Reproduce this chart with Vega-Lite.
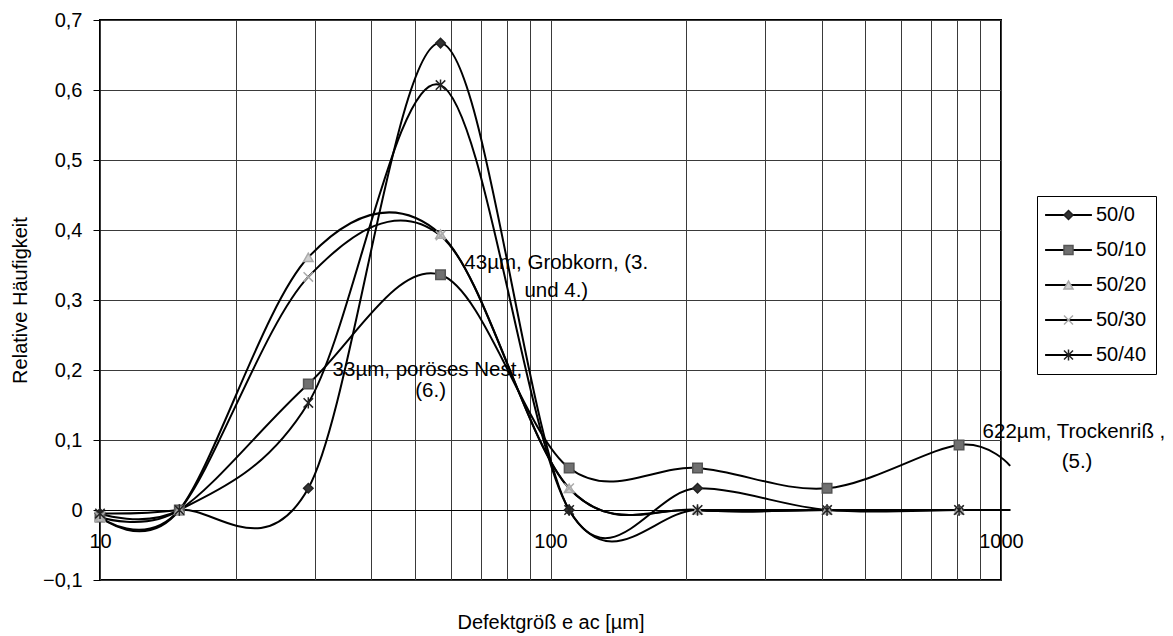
{
  "$schema": "https://vega.github.io/schema/vega-lite/v6.json",
  "width": 901,
  "height": 560,
  "autosize": "none",
  "padding": {"left": 100, "top": 20, "right": 172, "bottom": 56},
  "background": "white",
  "config": {
    "font": "Liberation Sans",
    "view": {"stroke": "black", "strokeWidth": 2},
    "axis": {
      "labelFont": "Liberation Sans", "titleFont": "Liberation Sans",
      "labelFontSize": 20, "titleFontSize": 20, "titleFontWeight": "normal",
      "labelColor": "black", "titleColor": "black",
      "gridColor": "#3a3a3a", "gridOpacity": 1, "gridWidth": 1
    },
    "legend": {"labelFont": "Liberation Sans", "labelFontSize": 20, "labelColor": "black"}
  },
  "data": {"values": [
    {"series": "50/0", "x": 10, "y": -0.005},
    {"series": "50/0", "x": 15, "y": 0},
    {"series": "50/0", "x": 29, "y": 0.031},
    {"series": "50/0", "x": 57, "y": 0.667},
    {"series": "50/0", "x": 110, "y": 0},
    {"series": "50/0", "x": 212, "y": 0.031},
    {"series": "50/0", "x": 411, "y": 0},
    {"series": "50/0", "x": 807, "y": 0},
    {"series": "50/0", "x": 1048, "y": 0},
    {"series": "50/10", "x": 10, "y": -0.01},
    {"series": "50/10", "x": 15, "y": 0},
    {"series": "50/10", "x": 29, "y": 0.18},
    {"series": "50/10", "x": 57, "y": 0.336},
    {"series": "50/10", "x": 110, "y": 0.06},
    {"series": "50/10", "x": 212, "y": 0.06},
    {"series": "50/10", "x": 411, "y": 0.031},
    {"series": "50/10", "x": 807, "y": 0.093},
    {"series": "50/10", "x": 1048, "y": 0.063},
    {"series": "50/20", "x": 10, "y": -0.01},
    {"series": "50/20", "x": 15, "y": 0},
    {"series": "50/20", "x": 29, "y": 0.361},
    {"series": "50/20", "x": 57, "y": 0.394},
    {"series": "50/20", "x": 110, "y": 0.031},
    {"series": "50/20", "x": 212, "y": 0},
    {"series": "50/20", "x": 411, "y": 0},
    {"series": "50/20", "x": 807, "y": 0},
    {"series": "50/20", "x": 1048, "y": 0},
    {"series": "50/30", "x": 10, "y": -0.01},
    {"series": "50/30", "x": 15, "y": 0},
    {"series": "50/30", "x": 29, "y": 0.333},
    {"series": "50/30", "x": 57, "y": 0.392},
    {"series": "50/30", "x": 110, "y": 0.031},
    {"series": "50/30", "x": 212, "y": 0},
    {"series": "50/30", "x": 411, "y": 0},
    {"series": "50/30", "x": 807, "y": 0},
    {"series": "50/30", "x": 1048, "y": 0},
    {"series": "50/40", "x": 10, "y": -0.005},
    {"series": "50/40", "x": 15, "y": 0},
    {"series": "50/40", "x": 29, "y": 0.153},
    {"series": "50/40", "x": 57, "y": 0.607},
    {"series": "50/40", "x": 110, "y": 0},
    {"series": "50/40", "x": 212, "y": 0},
    {"series": "50/40", "x": 411, "y": 0},
    {"series": "50/40", "x": 807, "y": 0},
    {"series": "50/40", "x": 1048, "y": 0}
  ]},
  "encoding": {
    "x": {
      "field": "x", "type": "quantitative",
      "scale": {"type": "log", "domain": [10, 1000], "nice": false},
      "axis": {
        "values": [10, 20, 30, 40, 50, 60, 70, 80, 90, 100, 200, 300, 400, 500, 600, 700, 800, 900, 1000],
        "offset": -70, "ticks": false, "domain": true, "domainColor": "black", "domainWidth": 1,
        "labelPadding": 21, "labelFlush": false, "labelOverlap": false,
        "labelExpr": "datum.value == 10 || datum.value == 100 || datum.value == 1000 ? format(datum.value, 'd') : ''",
        "title": "Defektgröß e ac [µm]", "titleY": 112, "titleBaseline": "middle", "grid": true
      }
    },
    "y": {
      "field": "y", "type": "quantitative",
      "scale": {"domain": [-0.1, 0.7], "nice": false, "zero": false},
      "axis": {
        "values": [-0.1, 0, 0.1, 0.2, 0.3, 0.4, 0.5, 0.6, 0.7],
        "labelExpr": "abs(datum.value) < 1e-9 ? '0' : replace(format(datum.value, '.1f'), '.', ',')",
        "tickSize": 7, "tickColor": "black", "labelPadding": 11, "domain": false,
        "title": "Relative Häufigkeit", "titleX": -80, "titleBaseline": "middle", "titleAngle": 270, "grid": true
      }
    }
  },
  "layer": [
    {
      "mark": {"type": "line", "interpolate": "cardinal", "strokeWidth": 2},
      "encoding": {
        "stroke": {
          "field": "series", "type": "nominal",
          "scale": {"domain": ["50/0", "50/10", "50/20", "50/30", "50/40"], "range": ["black", "black", "black", "black", "black"]},
          "legend": {
            "orient": "none", "legendX": 937, "legendY": 176, "title": null,
            "symbolType": "M-5.2,0H5.2", "symbolSize": 81, "symbolStrokeWidth": 2,
            "symbolOffset": 12.5, "labelOffset": 17.5, "padding": 9, "rowPadding": 15,
            "strokeColor": "black", "zindex": 1
          }
        }
      }
    },
    {
      "transform": [{"filter": "datum.x <= 1000"}],
      "mark": {"type": "point", "filled": false, "size": 90, "strokeWidth": 1.5, "opacity": 1},
      "encoding": {
        "shape": {
          "field": "series", "type": "nominal",
          "scale": {"range": ["diamond", "square", "triangle-up", "M-1,-1L1,1M-1,1L1,-1", "M-1,-1L1,1M-1,1L1,-1M0,-1.2V1.2"]},
          "legend": {"orient": "none", "legendX": 937, "legendY": 176, "title": null, "symbolSize": 81, "symbolOffset": 12.5, "labelOffset": 17.5, "padding": 9, "rowPadding": 15, "labelOpacity": 0, "zindex": 2, "symbolStrokeWidth": 1.5}
        },
        "color": {
          "field": "series", "type": "nominal",
          "scale": {"range": ["#222222", "#555555", "#aaaaaa", "#aaaaaa", "#222222"]},
          "legend": {"orient": "none", "legendX": 937, "legendY": 176, "title": null, "symbolSize": 81, "symbolOffset": 12.5, "labelOffset": 17.5, "padding": 9, "rowPadding": 15, "labelOpacity": 0, "zindex": 2, "symbolStrokeWidth": 1.5}
        },
        "fill": {
          "field": "series", "type": "nominal",
          "scale": {"range": ["#333333", "#707070", "#d0d0d0", "transparent", "transparent"]},
          "legend": {"orient": "none", "legendX": 937, "legendY": 176, "title": null, "symbolSize": 81, "symbolOffset": 12.5, "labelOffset": 17.5, "padding": 9, "rowPadding": 15, "labelOpacity": 0, "zindex": 2, "symbolStrokeWidth": 1.5}
        }
      }
    },
    {
      "data": {"values": [
        {"x": 103, "y": 0.353, "text": "43µm, Grobkorn, (3."},
        {"x": 103, "y": 0.313, "text": "und 4.)"},
        {"x": 53.3, "y": 0.2, "text": "33µm, poröses Nest,"},
        {"x": 54.2, "y": 0.17, "text": "(6.)"},
        {"x": 1452, "y": 0.111, "text": "622µm, Trockenriß ,"},
        {"x": 1475, "y": 0.069, "text": "(5.)"}
      ]},
      "mark": {"type": "text", "fontSize": 20.5, "font": "Liberation Sans", "align": "center", "baseline": "middle", "color": "black"},
      "encoding": {"text": {"field": "text", "type": "nominal"}}
    }
  ]
}
